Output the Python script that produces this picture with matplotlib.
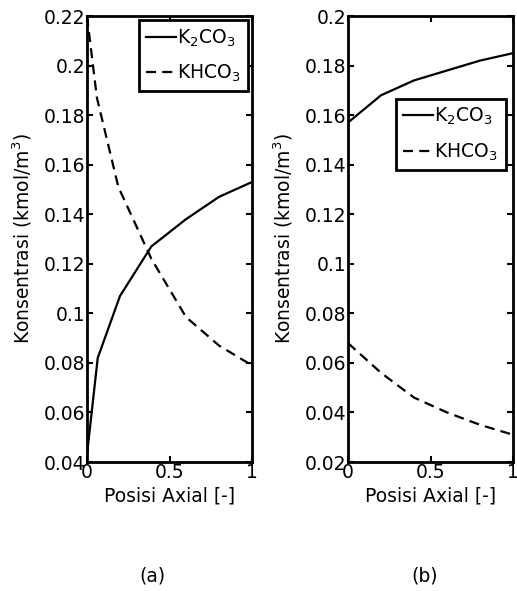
import matplotlib
matplotlib.use("Agg")
import matplotlib.pyplot as plt

# panel (a)
xa_k2 = [0, 0.065, 0.2, 0.39, 0.6, 0.8, 1.0]
ya_k2 = [0.043, 0.082, 0.107, 0.127, 0.138, 0.147, 0.153]
xa_kh = [0, 0.06, 0.19, 0.39, 0.6, 0.8, 1.0]
ya_kh = [0.22, 0.187, 0.151, 0.122, 0.0985, 0.087, 0.079]

# panel (b)
xb = [0, 0.2, 0.4, 0.6, 0.8, 1.0]
yb_k2 = [0.157, 0.168, 0.174, 0.178, 0.182, 0.185]
yb_kh = [0.068, 0.056, 0.046, 0.040, 0.035, 0.031]

plt.rcParams['font.family'] = 'DejaVu Sans'
FS = 13.5
DASH = (4.5, 2.8)

fig = plt.figure(figsize=(5.17, 5.91), dpi=100)
W, H = 517, 591


def style(ax, ylim, yticks):
    ax.set_xlim(0, 1)
    ax.set_ylim(*ylim)
    ax.set_xticks([0, 0.5, 1])
    ax.set_xticklabels(['0', '0.5', '1'])
    ax.set_yticks(yticks)
    ax.set_yticklabels([('%g' % t) for t in yticks])
    ax.tick_params(direction='in', top=True, right=True, length=4, width=1.5,
                   labelsize=FS, pad=1)
    for s in ax.spines.values():
        s.set_linewidth(2)
    ax.set_xlabel('Posisi Axial [-]', fontsize=FS, labelpad=3)
    ax.set_ylabel('Konsentrasi (kmol/m$^3$)', fontsize=FS, labelpad=7)


def legend(ax, **kw):
    leg = ax.legend(fancybox=False, framealpha=1, edgecolor='k',
                    handlelength=1.6, handletextpad=0.05, borderpad=0.4,
                    fontsize=FS, labelspacing=0.75, **kw)
    leg.get_frame().set_linewidth(2)
    return leg


ax1 = fig.add_axes([87 / W, (H - 462) / H, 165 / W, 446 / H])
ax1.plot(xa_k2, ya_k2, 'k-', lw=1.6, label='K$_2$CO$_3$')
ax1.plot(xa_kh, ya_kh, 'k-', lw=1.6, dashes=DASH, label='KHCO$_3$')
style(ax1, (0.04, 0.22), [0.04, 0.06, 0.08, 0.1, 0.12, 0.14, 0.16, 0.18, 0.2, 0.22])
legend(ax1, loc='upper right', borderaxespad=0.2)

ax2 = fig.add_axes([348 / W, (H - 462) / H, 165 / W, 446 / H])
ax2.plot(xb, yb_k2, 'k-', lw=1.6, label='K$_2$CO$_3$')
ax2.plot(xb, yb_kh, 'k-', lw=1.6, dashes=DASH, label='KHCO$_3$')
style(ax2, (0.02, 0.2), [0.02, 0.04, 0.06, 0.08, 0.1, 0.12, 0.14, 0.16, 0.18, 0.2])
legend(ax2, loc='upper right', bbox_to_anchor=(0.955, 0.815), borderaxespad=0.0)

fig.text(152 / W, 1 - 576 / H, '(a)', ha='center', va='center', fontsize=FS)
fig.text(425 / W, 1 - 576 / H, '(b)', ha='center', va='center', fontsize=FS)

fig.savefig('out.png', dpi=100)
